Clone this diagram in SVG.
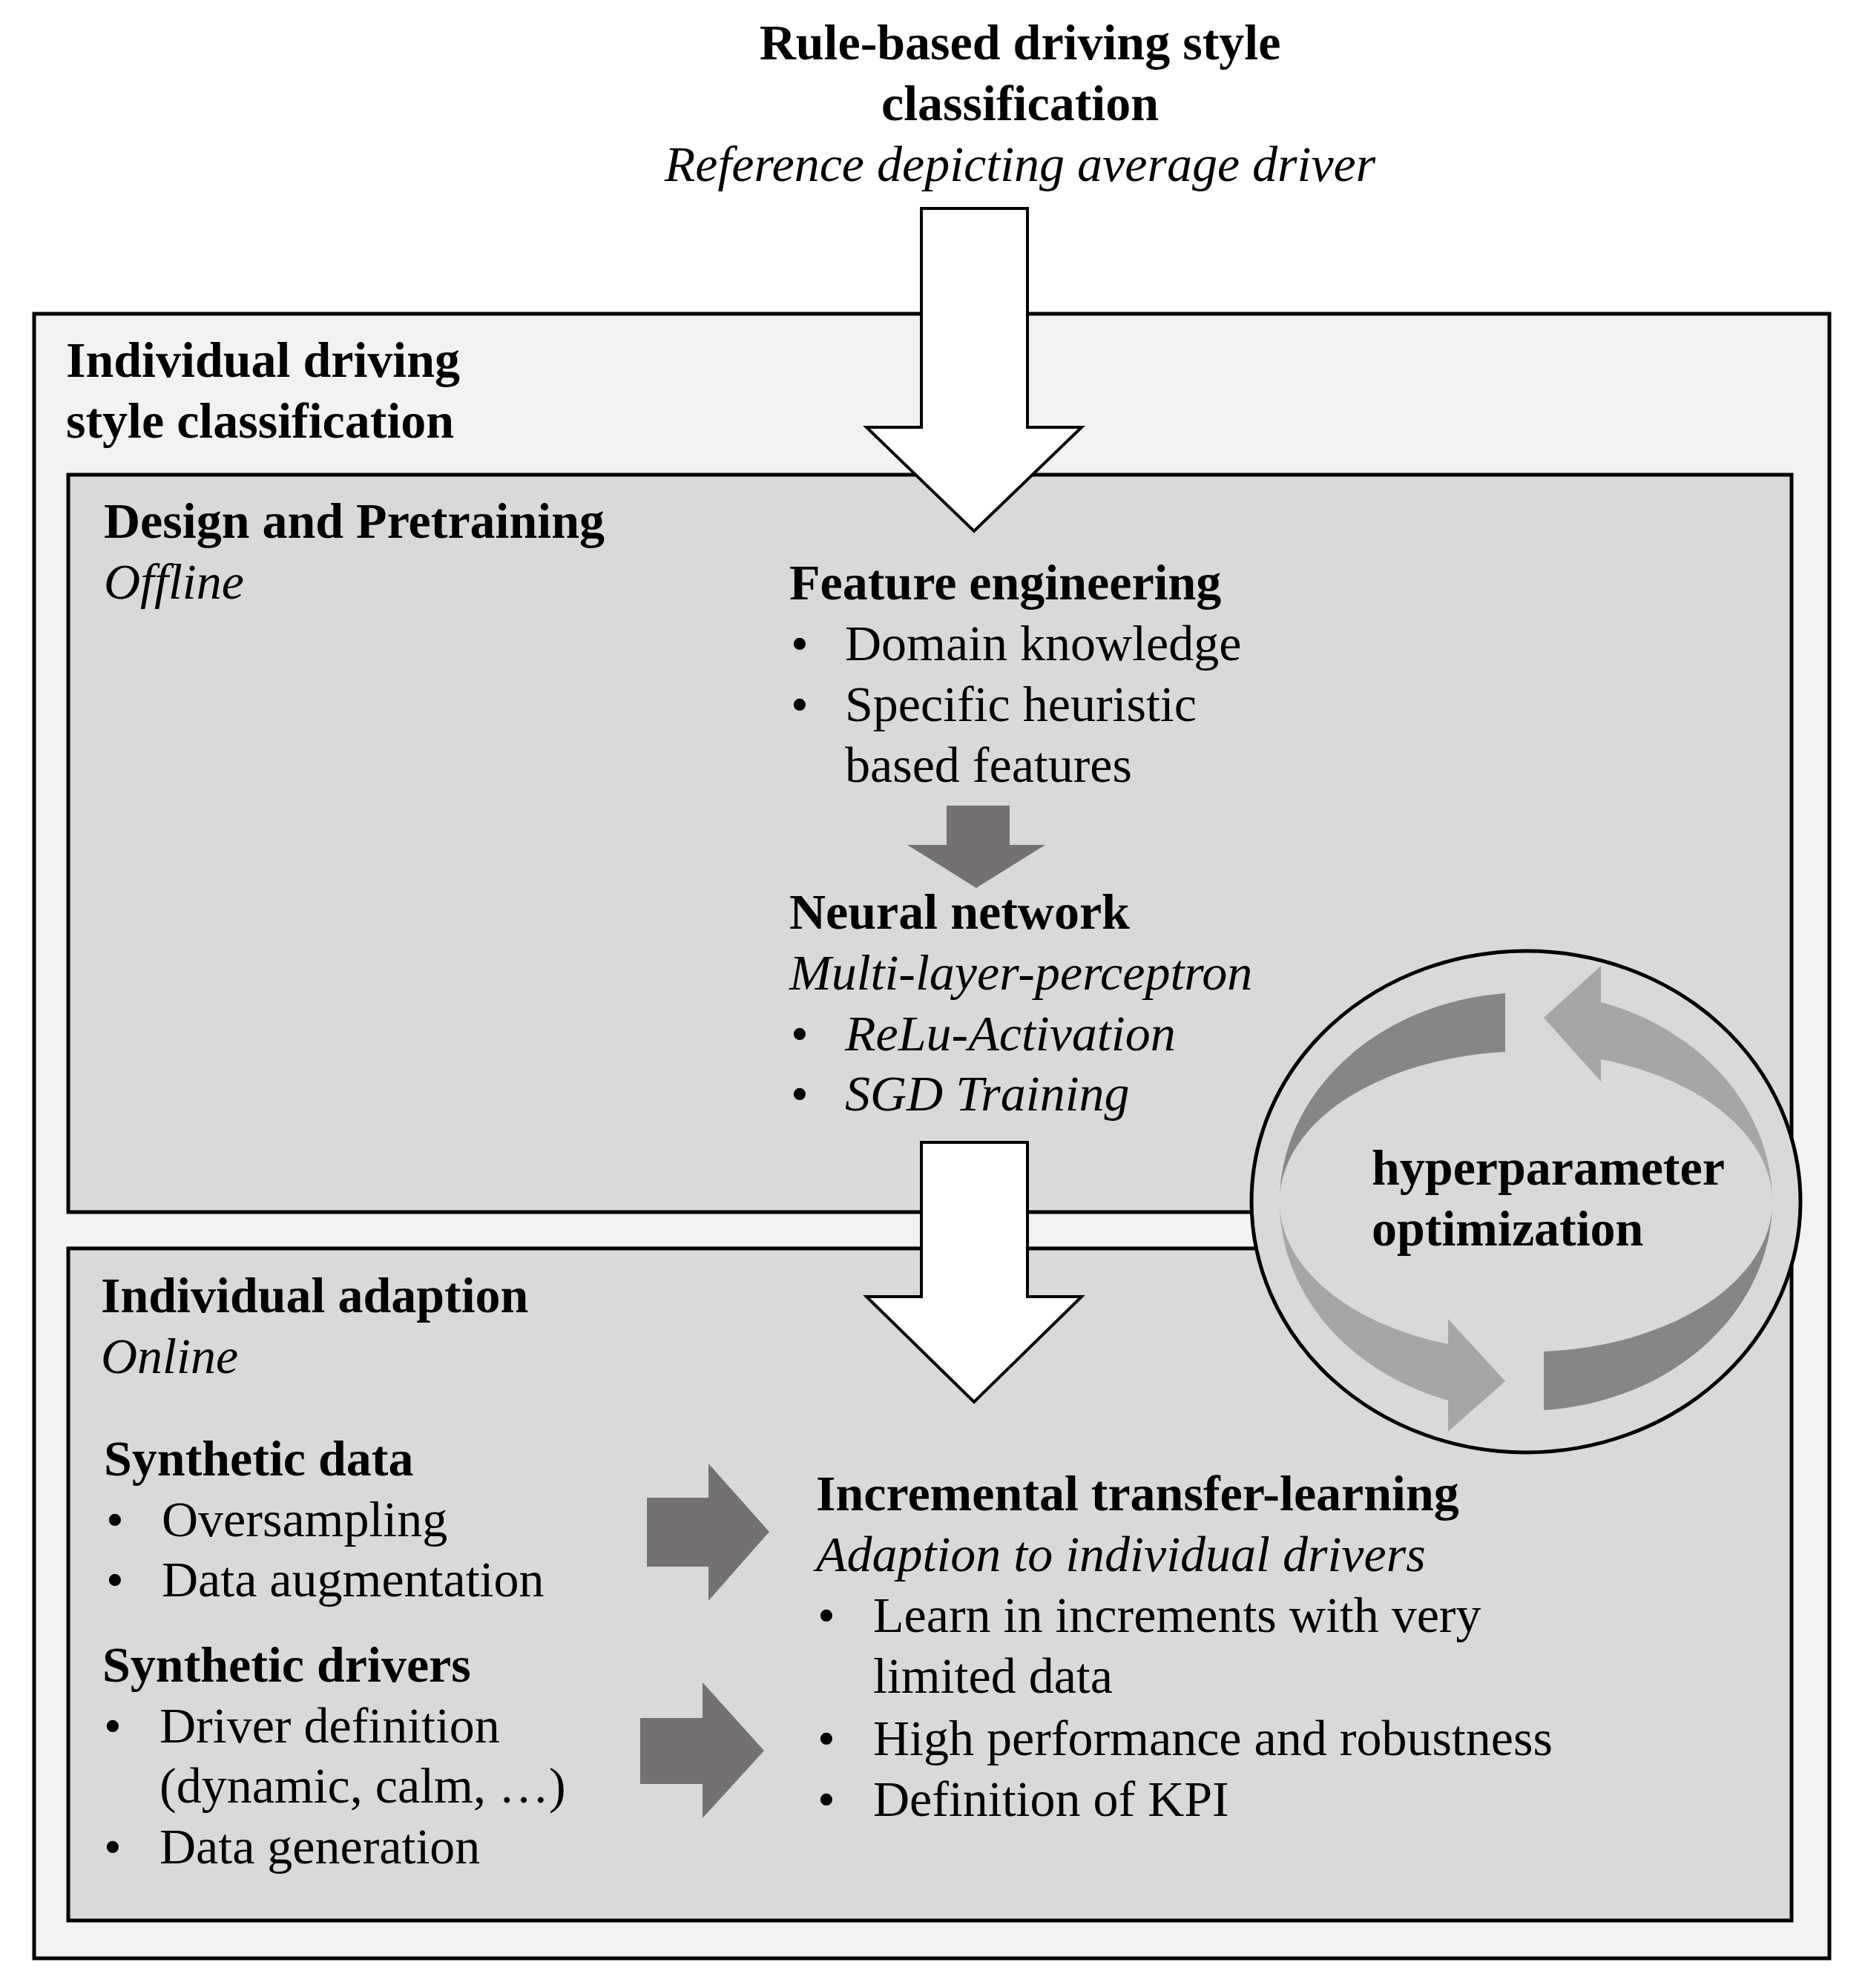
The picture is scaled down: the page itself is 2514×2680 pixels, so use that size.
<svg xmlns="http://www.w3.org/2000/svg" width="2514" height="2680" viewBox="0 0 2514 2680">
<style>
text{font-family:"Liberation Serif","Times New Roman",serif;font-size:68px;fill:#000}
.b{font-weight:bold}.i{font-style:italic}
.box{stroke:#000;stroke-width:5}
.wa{fill:#fff;stroke:#000;stroke-width:4}
.ga{fill:#767171}
</style>
<rect width="2514" height="2680" fill="#fff"/>
<g id="title">
<text class="b" x="1375" y="80" text-anchor="middle">Rule-based driving style</text>
<text class="b" x="1375" y="162" text-anchor="middle">classification</text>
<text class="i" x="1375" y="244" text-anchor="middle">Reference depicting average driver</text>
</g>
<g id="outer">
<rect class="box" x="46" y="423" width="2420" height="2217" fill="#f2f2f2"/>
<text class="b" x="89" y="508">Individual driving</text>
<text class="b" x="89" y="590">style classification</text>
</g>
<g id="design">
<rect class="box" x="92" y="640" width="2323" height="994" fill="#d9d9d9"/>
<text class="b" x="140" y="725">Design and Pretraining</text>
<text class="i" x="140" y="807">Offline</text>
<text class="b" x="1064" y="808">Feature engineering</text>
<text x="1066" y="890">•</text><text x="1139" y="890">Domain knowledge</text>
<text x="1066" y="972">•</text><text x="1139" y="972">Specific heuristic</text>
<text x="1139" y="1054">based features</text>
<text class="b" x="1064" y="1252">Neural network</text>
<text class="i" x="1064" y="1334">Multi-layer-perceptron</text>
<text x="1066" y="1416">•</text><text class="i" x="1139" y="1416">ReLu-Activation</text>
<text x="1066" y="1497">•</text><text class="i" x="1139" y="1497">SGD Training</text>
</g>
<g id="adaption">
<rect class="box" x="92" y="1683" width="2323" height="906" fill="#d9d9d9"/>
<text class="b" x="136" y="1769">Individual adaption</text>
<text class="i" x="136" y="1851">Online</text>
<text class="b" x="140" y="1989">Synthetic data</text>
<text x="143" y="2071">•</text><text x="218" y="2071">Oversampling</text>
<text x="143" y="2152">•</text><text x="218" y="2152">Data augmentation</text>
<text class="b" x="138" y="2267">Synthetic drivers</text>
<text x="140" y="2349">•</text><text x="215" y="2349">Driver definition</text>
<text x="215" y="2430">(dynamic, calm, …)</text>
<text x="140" y="2512">•</text><text x="215" y="2512">Data generation</text>
<text class="b" x="1100" y="2036">Incremental transfer-learning</text>
<text class="i" x="1100" y="2118">Adaption to individual drivers</text>
<text x="1102" y="2200">•</text><text x="1177" y="2200">Learn in increments with very</text>
<text x="1177" y="2282">limited data</text>
<text x="1102" y="2366">•</text><text x="1177" y="2366">High performance and robustness</text>
<text x="1102" y="2448">•</text><text x="1177" y="2448">Definition of KPI</text>
</g>
<g id="connectors">
<polygon class="wa" points="1242,281 1385,281 1385,576 1458,576 1313,716 1168,576 1242,576"/>
<polygon class="wa" points="1242,1540 1385,1540 1385,1748 1458,1748 1313,1890 1168,1748 1242,1748"/>
<polygon class="ga" points="1276,1086 1361,1086 1361,1139 1409,1139 1316,1197 1223,1139 1276,1139"/>
<polygon class="ga" points="872,2019 955,2019 955,1973 1037,2065 955,2158 955,2112 872,2112"/>
<polygon class="ga" points="863,2316 947,2316 947,2268 1030,2360 947,2451 947,2405 863,2405"/>
</g>
<g id="hyperparameter">
<ellipse cx="2057" cy="1620" rx="370" ry="338" fill="#d9d9d9" stroke="#000" stroke-width="5"/>
<path fill="#868686" d="M2029,1339 A332 282 0 0 0 1725,1620 A332 202 0 0 1 2029,1418 Z"/>
<path fill="#a6a6a6" d="M1725,1620 A332 282 0 0 0 1952,1888 L1952,1930 L2029,1862 L1952,1778 L1952,1812 A332 202 0 0 1 1725,1620 Z"/>
<path fill="#a6a6a6" d="M2389,1620 A332 282 0 0 0 2158,1351 L2158,1302 L2081,1372 L2158,1458 L2158,1428 A332 202 0 0 1 2389,1620 Z"/>
<path fill="#868686" d="M2081,1901 A332 282 0 0 0 2389,1620 A332 202 0 0 1 2081,1822 Z"/>
<text class="b" x="1849" y="1597">hyperparameter</text>
<text class="b" x="1849" y="1679">optimization</text>
</g>
</svg>
